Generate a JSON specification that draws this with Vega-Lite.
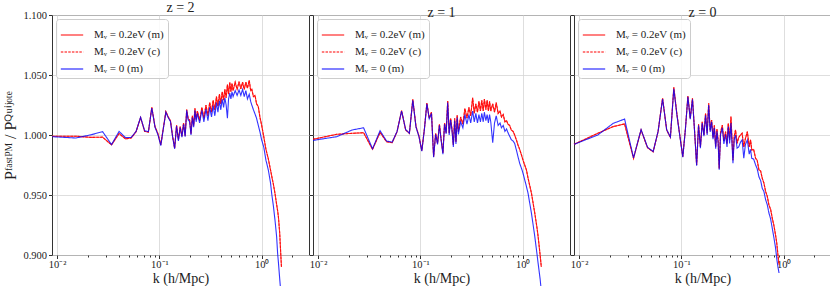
{
  "$schema": "https://vega.github.io/schema/vega-lite/v6.json",
  "padding": {"left": 2, "top": 0, "right": 2, "bottom": 0},
  "spacing": 4,
  "bounds": "flush",
  "config": {
    "font": "Liberation Serif",
    "view": {"stroke": "#333333", "strokeWidth": 1},
    "axis": {"labelFont": "Liberation Serif", "titleFont": "Liberation Serif", "labelFontSize": 10.5, "titleFontSize": 14, "titleFontWeight": "normal", "labelColor": "#222222", "titleColor": "#222222", "tickColor": "#333333", "domain": false, "gridColor": "#d6d6d6", "gridWidth": 0.8},
    "title": {"font": "Liberation Serif", "fontSize": 14, "fontWeight": "normal", "color": "#222222", "offset": -5, "anchor": "middle"},
    "legend": {"orient": "top-left", "offset": 4, "padding": 4, "fillColor": "rgba(255,255,255,0.85)", "strokeColor": "#cccccc", "cornerRadius": 3, "labelFont": "Liberation Serif", "labelFontSize": 11, "labelColor": "#222222", "symbolType": "stroke", "symbolStrokeWidth": 1.5, "symbolSize": 500, "rowPadding": 0, "labelOffset": 10},
    "line": {"strokeWidth": 1.1, "opacity": 0.8, "clip": true}
  },
  "resolve": {"scale": {"color": "independent", "strokeDash": "independent"}, "legend": {"color": "independent", "strokeDash": "independent"}},
  "datasets": {
    "d": [
      {"z":2,"k":0.0089,"rm":0.9990,"rc":0.9990,"bm":0.9986},
      {"z":2,"k":0.0152,"rm":0.9990,"rc":0.9990,"bm":0.9975},
      {"z":2,"k":0.0215,"rm":0.9980,"rc":0.9980,"bm":1.0002},
      {"z":2,"k":0.0278,"rm":0.9982,"rc":0.9982,"bm":1.0028},
      {"z":2,"k":0.0340,"rm":0.9918,"rc":0.9918,"bm":0.9920},
      {"z":2,"k":0.0403,"rm":1.0012,"rc":1.0012,"bm":1.0030},
      {"z":2,"k":0.0466,"rm":0.9968,"rc":0.9968,"bm":0.9978},
      {"z":2,"k":0.0529,"rm":0.9975,"rc":0.9975,"bm":0.9980},
      {"z":2,"k":0.0591,"rm":1.0028,"rc":1.0028,"bm":1.0030},
      {"z":2,"k":0.0654,"rm":1.0145,"rc":1.0145,"bm":1.0148},
      {"z":2,"k":0.0717,"rm":1.0030,"rc":1.0030,"bm":1.0035},
      {"z":2,"k":0.0780,"rm":1.0025,"rc":1.0025,"bm":1.0028},
      {"z":2,"k":0.0842,"rm":1.0230,"rc":1.0230,"bm":1.0225},
      {"z":2,"k":0.0905,"rm":1.0070,"rc":1.0070,"bm":1.0065},
      {"z":2,"k":0.0968,"rm":1.0010,"rc":1.0010,"bm":1.0000},
      {"z":2,"k":0.1031,"rm":0.9918,"rc":0.9918,"bm":0.9912},
      {"z":2,"k":0.1093,"rm":1.0060,"rc":1.0060,"bm":1.0055},
      {"z":2,"k":0.1156,"rm":1.0195,"rc":1.0195,"bm":1.0190},
      {"z":2,"k":0.1219,"rm":1.0150,"rc":1.0150,"bm":1.0145},
      {"z":2,"k":0.1282,"rm":1.0118,"rc":1.0118,"bm":1.0112},
      {"z":2,"k":0.1345,"rm":0.9990,"rc":0.9990,"bm":0.9985},
      {"z":2,"k":0.1408,"rm":0.9890,"rc":0.9890,"bm":0.9885},
      {"z":2,"k":0.1470,"rm":1.0080,"rc":1.0080,"bm":1.0075},
      {"z":2,"k":0.1533,"rm":0.9960,"rc":0.9960,"bm":0.9950},
      {"z":2,"k":0.1596,"rm":1.0070,"rc":1.0070,"bm":1.0062},
      {"z":2,"k":0.1659,"rm":0.9990,"rc":0.9990,"bm":0.9982},
      {"z":2,"k":0.1721,"rm":1.0100,"rc":1.0100,"bm":1.0090},
      {"z":2,"k":0.1784,"rm":0.9995,"rc":0.9995,"bm":0.9985},
      {"z":2,"k":0.1847,"rm":1.0212,"rc":1.0212,"bm":1.0205},
      {"z":2,"k":0.1910,"rm":1.0135,"rc":1.0135,"bm":1.0125},
      {"z":2,"k":0.1973,"rm":1.0125,"rc":1.0125,"bm":1.0112},
      {"z":2,"k":0.2035,"rm":1.0010,"rc":1.0010,"bm":1.0000},
      {"z":2,"k":0.2098,"rm":1.0160,"rc":1.0160,"bm":1.0145},
      {"z":2,"k":0.2161,"rm":1.0080,"rc":1.0080,"bm":1.0065},
      {"z":2,"k":0.2224,"rm":1.0222,"rc":1.0222,"bm":1.0205},
      {"z":2,"k":0.2286,"rm":1.0130,"rc":1.0130,"bm":1.0110},
      {"z":2,"k":0.235,"rm":1.0200,"rc":1.0200,"bm":1.0180},
      {"z":2,"k":0.247,"rm":1.0120,"rc":1.0120,"bm":1.0100},
      {"z":2,"k":0.260,"rm":1.0230,"rc":1.0230,"bm":1.0205},
      {"z":2,"k":0.272,"rm":1.0140,"rc":1.0140,"bm":1.0110},
      {"z":2,"k":0.285,"rm":1.0250,"rc":1.0250,"bm":1.0215},
      {"z":2,"k":0.298,"rm":1.0160,"rc":1.0160,"bm":1.0120},
      {"z":2,"k":0.310,"rm":1.0270,"rc":1.0270,"bm":1.0230},
      {"z":2,"k":0.323,"rm":1.0190,"rc":1.0190,"bm":1.0150},
      {"z":2,"k":0.335,"rm":1.0290,"rc":1.0290,"bm":1.0245},
      {"z":2,"k":0.348,"rm":1.0210,"rc":1.0210,"bm":1.0160},
      {"z":2,"k":0.361,"rm":1.0320,"rc":1.0320,"bm":1.0270},
      {"z":2,"k":0.373,"rm":1.0240,"rc":1.0240,"bm":1.0190},
      {"z":2,"k":0.386,"rm":1.0340,"rc":1.0340,"bm":1.0285},
      {"z":2,"k":0.398,"rm":1.0260,"rc":1.0260,"bm":1.0210},
      {"z":2,"k":0.411,"rm":1.0360,"rc":1.0360,"bm":1.0300},
      {"z":2,"k":0.424,"rm":1.0290,"rc":1.0290,"bm":1.0230},
      {"z":2,"k":0.436,"rm":1.0380,"rc":1.0380,"bm":1.0310},
      {"z":2,"k":0.449,"rm":1.0310,"rc":1.0310,"bm":1.0250},
      {"z":2,"k":0.462,"rm":1.0420,"rc":1.0420,"bm":1.0140},
      {"z":2,"k":0.474,"rm":1.0340,"rc":1.0340,"bm":1.0300},
      {"z":2,"k":0.487,"rm":1.0440,"rc":1.0440,"bm":1.0350},
      {"z":2,"k":0.500,"rm":1.0360,"rc":1.0360,"bm":1.0300},
      {"z":2,"k":0.512,"rm":1.0430,"rc":1.0430,"bm":1.0360},
      {"z":2,"k":0.525,"rm":1.0370,"rc":1.0370,"bm":1.0320},
      {"z":2,"k":0.550,"rm":1.0440,"rc":1.0440,"bm":1.0370},
      {"z":2,"k":0.575,"rm":1.0380,"rc":1.0380,"bm":1.0330},
      {"z":2,"k":0.600,"rm":1.0445,"rc":1.0445,"bm":1.0375},
      {"z":2,"k":0.625,"rm":1.0385,"rc":1.0385,"bm":1.0330},
      {"z":2,"k":0.650,"rm":1.0440,"rc":1.0440,"bm":1.0380},
      {"z":2,"k":0.675,"rm":1.0380,"rc":1.0380,"bm":1.0320},
      {"z":2,"k":0.700,"rm":1.0440,"rc":1.0440,"bm":1.0370},
      {"z":2,"k":0.725,"rm":1.0390,"rc":1.0390,"bm":1.0300},
      {"z":2,"k":0.755,"rm":1.0455,"rc":1.0455,"bm":1.0340},
      {"z":2,"k":0.780,"rm":1.0370,"rc":1.0370,"bm":1.0280},
      {"z":2,"k":0.800,"rm":1.0380,"rc":1.0380,"bm":1.0250},
      {"z":2,"k":0.830,"rm":1.0320,"rc":1.0320,"bm":1.0210},
      {"z":2,"k":0.860,"rm":1.0330,"rc":1.0330,"bm":1.0175},
      {"z":2,"k":0.890,"rm":1.0260,"rc":1.0260,"bm":1.0140},
      {"z":2,"k":0.926,"rm":1.0236,"rc":1.0236,"bm":1.0080},
      {"z":2,"k":0.960,"rm":1.0150,"rc":1.0150,"bm":1.0028},
      {"z":2,"k":0.998,"rm":1.0083,"rc":1.0083,"bm":0.9960},
      {"z":2,"k":1.047,"rm":0.9986,"rc":0.9986,"bm":0.9900},
      {"z":2,"k":1.100,"rm":0.9880,"rc":0.9880,"bm":0.9790},
      {"z":2,"k":1.161,"rm":0.9800,"rc":0.9800,"bm":0.9708},
      {"z":2,"k":1.220,"rm":0.9708,"rc":0.9708,"bm":0.9600},
      {"z":2,"k":1.251,"rm":0.9660,"rc":0.9660,"bm":0.9514},
      {"z":2,"k":1.300,"rm":0.9590,"rc":0.9590,"bm":0.9410},
      {"z":2,"k":1.348,"rm":0.9514,"rc":0.9514,"bm":0.9292},
      {"z":2,"k":1.400,"rm":0.9420,"rc":0.9420,"bm":0.9150},
      {"z":2,"k":1.430,"rm":0.9370,"rc":0.9370,"bm":0.9017},
      {"z":2,"k":1.456,"rm":0.9320,"rc":0.9320,"bm":0.8940},
      {"z":2,"k":1.500,"rm":0.9180,"rc":0.9180,"bm":0.8800},
      {"z":2,"k":1.534,"rm":0.9014,"rc":0.9014,"bm":0.8700},
      {"z":2,"k":1.560,"rm":0.8900,"rc":0.8900,"bm":0.8600},

      {"z":1,"k":0.0089,"rm":0.9964,"rc":0.9964,"bm":0.9955},
      {"z":1,"k":0.0152,"rm":1.0006,"rc":1.0006,"bm":0.9986},
      {"z":1,"k":0.0215,"rm":1.0014,"rc":1.0014,"bm":1.0042},
      {"z":1,"k":0.0278,"rm":1.0019,"rc":1.0019,"bm":1.0060},
      {"z":1,"k":0.0340,"rm":0.9881,"rc":0.9881,"bm":0.9885},
      {"z":1,"k":0.0403,"rm":1.0022,"rc":1.0022,"bm":1.0036},
      {"z":1,"k":0.0466,"rm":0.9944,"rc":0.9944,"bm":0.9950},
      {"z":1,"k":0.0529,"rm":0.9936,"rc":0.9936,"bm":0.9940},
      {"z":1,"k":0.0591,"rm":1.0028,"rc":1.0028,"bm":1.0030},
      {"z":1,"k":0.0654,"rm":1.0203,"rc":1.0203,"bm":1.0200},
      {"z":1,"k":0.0717,"rm":1.0042,"rc":1.0042,"bm":1.0045},
      {"z":1,"k":0.0780,"rm":1.0014,"rc":1.0014,"bm":1.0015},
      {"z":1,"k":0.0842,"rm":1.0297,"rc":1.0297,"bm":1.0290},
      {"z":1,"k":0.0905,"rm":1.0070,"rc":1.0070,"bm":1.0065},
      {"z":1,"k":0.0968,"rm":0.9990,"rc":0.9990,"bm":0.9985},
      {"z":1,"k":0.1031,"rm":0.9869,"rc":0.9869,"bm":0.9865},
      {"z":1,"k":0.1093,"rm":1.0050,"rc":1.0050,"bm":1.0045},
      {"z":1,"k":0.1156,"rm":1.0267,"rc":1.0267,"bm":1.0260},
      {"z":1,"k":0.1219,"rm":1.0139,"rc":1.0139,"bm":1.0135},
      {"z":1,"k":0.1282,"rm":1.0190,"rc":1.0190,"bm":1.0180},
      {"z":1,"k":0.1345,"rm":0.9820,"rc":0.9820,"bm":0.9815},
      {"z":1,"k":0.1408,"rm":1.0014,"rc":1.0014,"bm":1.0005},
      {"z":1,"k":0.1470,"rm":0.9930,"rc":0.9930,"bm":0.9922},
      {"z":1,"k":0.1533,"rm":1.0090,"rc":1.0090,"bm":1.0080},
      {"z":1,"k":0.1596,"rm":0.9960,"rc":0.9960,"bm":0.9950},
      {"z":1,"k":0.1659,"rm":0.9850,"rc":0.9850,"bm":0.9840},
      {"z":1,"k":0.1721,"rm":1.0100,"rc":1.0100,"bm":1.0090},
      {"z":1,"k":0.1784,"rm":1.0020,"rc":1.0020,"bm":1.0010},
      {"z":1,"k":0.1847,"rm":1.0283,"rc":1.0283,"bm":1.0270},
      {"z":1,"k":0.1910,"rm":1.0014,"rc":1.0014,"bm":1.0000},
      {"z":1,"k":0.1973,"rm":1.0139,"rc":1.0139,"bm":1.0125},
      {"z":1,"k":0.2035,"rm":1.0050,"rc":1.0050,"bm":1.0035},
      {"z":1,"k":0.2098,"rm":0.9917,"rc":0.9917,"bm":0.9900},
      {"z":1,"k":0.2161,"rm":1.0139,"rc":1.0139,"bm":1.0120},
      {"z":1,"k":0.2224,"rm":0.9944,"rc":0.9944,"bm":0.9925},
      {"z":1,"k":0.2286,"rm":1.0167,"rc":1.0167,"bm":1.0145},
      {"z":1,"k":0.235,"rm":1.0028,"rc":1.0028,"bm":1.0005},
      {"z":1,"k":0.247,"rm":1.0150,"rc":1.0150,"bm":1.0110},
      {"z":1,"k":0.260,"rm":1.0090,"rc":1.0090,"bm":1.0060},
      {"z":1,"k":0.272,"rm":1.0220,"rc":1.0220,"bm":1.0170},
      {"z":1,"k":0.285,"rm":1.0140,"rc":1.0140,"bm":1.0090},
      {"z":1,"k":0.298,"rm":1.0230,"rc":1.0230,"bm":1.0170},
      {"z":1,"k":0.310,"rm":1.0160,"rc":1.0160,"bm":1.0100},
      {"z":1,"k":0.324,"rm":1.0310,"rc":1.0310,"bm":1.0200},
      {"z":1,"k":0.336,"rm":1.0180,"rc":1.0180,"bm":1.0110},
      {"z":1,"k":0.348,"rm":1.0260,"rc":1.0260,"bm":1.0180},
      {"z":1,"k":0.361,"rm":1.0190,"rc":1.0190,"bm":1.0100},
      {"z":1,"k":0.373,"rm":1.0280,"rc":1.0280,"bm":1.0170},
      {"z":1,"k":0.386,"rm":1.0200,"rc":1.0200,"bm":1.0110},
      {"z":1,"k":0.398,"rm":1.0290,"rc":1.0290,"bm":1.0180},
      {"z":1,"k":0.411,"rm":1.0200,"rc":1.0200,"bm":1.0110},
      {"z":1,"k":0.422,"rm":1.0300,"rc":1.0300,"bm":1.0190},
      {"z":1,"k":0.436,"rm":1.0210,"rc":1.0210,"bm":1.0120},
      {"z":1,"k":0.449,"rm":1.0290,"rc":1.0290,"bm":1.0170},
      {"z":1,"k":0.462,"rm":1.0200,"rc":1.0200,"bm":1.0100},
      {"z":1,"k":0.474,"rm":1.0280,"rc":1.0280,"bm":1.0170},
      {"z":1,"k":0.487,"rm":1.0200,"rc":1.0200,"bm":1.0110},
      {"z":1,"k":0.509,"rm":1.0260,"rc":1.0260,"bm":0.9936},
      {"z":1,"k":0.530,"rm":1.0190,"rc":1.0190,"bm":1.0100},
      {"z":1,"k":0.551,"rm":1.0270,"rc":1.0270,"bm":1.0160},
      {"z":1,"k":0.575,"rm":1.0180,"rc":1.0180,"bm":1.0080},
      {"z":1,"k":0.600,"rm":1.0200,"rc":1.0200,"bm":1.0100},
      {"z":1,"k":0.620,"rm":1.0150,"rc":1.0150,"bm":1.0060},
      {"z":1,"k":0.645,"rm":1.0170,"rc":1.0170,"bm":1.0080},
      {"z":1,"k":0.670,"rm":1.0110,"rc":1.0110,"bm":1.0030},
      {"z":1,"k":0.695,"rm":1.0120,"rc":1.0120,"bm":1.0050},
      {"z":1,"k":0.717,"rm":1.0090,"rc":1.0090,"bm":1.0020},
      {"z":1,"k":0.745,"rm":1.0080,"rc":1.0080,"bm":0.9990},
      {"z":1,"k":0.775,"rm":1.0040,"rc":1.0040,"bm":0.9960},
      {"z":1,"k":0.805,"rm":1.0030,"rc":1.0030,"bm":0.9950},
      {"z":1,"k":0.834,"rm":1.0000,"rc":1.0000,"bm":0.9930},
      {"z":1,"k":0.867,"rm":0.9960,"rc":0.9960,"bm":0.9875},
      {"z":1,"k":0.899,"rm":0.9917,"rc":0.9917,"bm":0.9820},
      {"z":1,"k":0.934,"rm":0.9880,"rc":0.9880,"bm":0.9764},
      {"z":1,"k":0.984,"rm":0.9820,"rc":0.9820,"bm":0.9710},
      {"z":1,"k":1.007,"rm":0.9790,"rc":0.9790,"bm":0.9681},
      {"z":1,"k":1.088,"rm":0.9708,"rc":0.9708,"bm":0.9570},
      {"z":1,"k":1.128,"rm":0.9640,"rc":0.9640,"bm":0.9514},
      {"z":1,"k":1.218,"rm":0.9514,"rc":0.9514,"bm":0.9347},
      {"z":1,"k":1.313,"rm":0.9347,"rc":0.9347,"bm":0.9153},
      {"z":1,"k":1.383,"rm":0.9220,"rc":0.9220,"bm":0.9000},
      {"z":1,"k":1.415,"rm":0.9153,"rc":0.9153,"bm":0.8930},
      {"z":1,"k":1.480,"rm":0.9000,"rc":0.9000,"bm":0.8800},
      {"z":1,"k":1.520,"rm":0.8900,"rc":0.8900,"bm":0.8700},

      {"z":0,"k":0.0089,"rm":0.9922,"rc":0.9922,"bm":0.9922},
      {"z":0,"k":0.0152,"rm":1.0014,"rc":1.0014,"bm":1.0000},
      {"z":0,"k":0.0215,"rm":1.0070,"rc":1.0070,"bm":1.0097},
      {"z":0,"k":0.0278,"rm":1.0092,"rc":1.0092,"bm":1.0133},
      {"z":0,"k":0.0340,"rm":0.9806,"rc":0.9806,"bm":0.9810},
      {"z":0,"k":0.0403,"rm":1.0042,"rc":1.0042,"bm":1.0045},
      {"z":0,"k":0.0466,"rm":0.9894,"rc":0.9894,"bm":0.9898},
      {"z":0,"k":0.0529,"rm":0.9860,"rc":0.9860,"bm":0.9862},
      {"z":0,"k":0.0591,"rm":1.0028,"rc":1.0028,"bm":1.0030},
      {"z":0,"k":0.0654,"rm":1.0306,"rc":1.0306,"bm":1.0300},
      {"z":0,"k":0.0717,"rm":1.0042,"rc":1.0042,"bm":1.0045},
      {"z":0,"k":0.0780,"rm":0.9980,"rc":0.9980,"bm":0.9982},
      {"z":0,"k":0.0842,"rm":1.0397,"rc":1.0397,"bm":1.0385},
      {"z":0,"k":0.0905,"rm":1.0167,"rc":1.0167,"bm":1.0160},
      {"z":0,"k":0.0968,"rm":0.9986,"rc":0.9986,"bm":0.9980},
      {"z":0,"k":0.1031,"rm":0.9820,"rc":0.9820,"bm":0.9815},
      {"z":0,"k":0.1093,"rm":1.0050,"rc":1.0050,"bm":1.0045},
      {"z":0,"k":0.1156,"rm":1.0325,"rc":1.0325,"bm":1.0318},
      {"z":0,"k":0.1219,"rm":1.0139,"rc":1.0139,"bm":1.0132},
      {"z":0,"k":0.1282,"rm":1.0306,"rc":1.0306,"bm":1.0298},
      {"z":0,"k":0.1345,"rm":1.0030,"rc":1.0030,"bm":1.0025},
      {"z":0,"k":0.1408,"rm":0.9750,"rc":0.9750,"bm":0.9745},
      {"z":0,"k":0.1470,"rm":1.0090,"rc":1.0090,"bm":1.0080},
      {"z":0,"k":0.1533,"rm":0.9900,"rc":0.9900,"bm":0.9890},
      {"z":0,"k":0.1596,"rm":1.0110,"rc":1.0110,"bm":1.0100},
      {"z":0,"k":0.1659,"rm":1.0000,"rc":1.0000,"bm":0.9990},
      {"z":0,"k":0.1721,"rm":1.0180,"rc":1.0180,"bm":1.0165},
      {"z":0,"k":0.1784,"rm":1.0014,"rc":1.0014,"bm":1.0000},
      {"z":0,"k":0.1847,"rm":1.0264,"rc":1.0264,"bm":1.0250},
      {"z":0,"k":0.1910,"rm":1.0040,"rc":1.0040,"bm":1.0025},
      {"z":0,"k":0.1973,"rm":1.0125,"rc":1.0125,"bm":1.0110},
      {"z":0,"k":0.2035,"rm":0.9980,"rc":0.9980,"bm":0.9965},
      {"z":0,"k":0.2098,"rm":1.0080,"rc":1.0080,"bm":1.0060},
      {"z":0,"k":0.2161,"rm":0.9903,"rc":0.9903,"bm":0.9885},
      {"z":0,"k":0.2224,"rm":1.0050,"rc":1.0050,"bm":1.0030},
      {"z":0,"k":0.2286,"rm":0.9950,"rc":0.9950,"bm":0.9930},
      {"z":0,"k":0.234,"rm":0.9722,"rc":0.9722,"bm":0.9710},
      {"z":0,"k":0.241,"rm":1.0020,"rc":1.0020,"bm":1.0000},
      {"z":0,"k":0.251,"rm":1.0083,"rc":1.0083,"bm":1.0060},
      {"z":0,"k":0.260,"rm":0.9950,"rc":0.9950,"bm":0.9925},
      {"z":0,"k":0.270,"rm":1.0028,"rc":1.0028,"bm":1.0005},
      {"z":0,"k":0.279,"rm":0.9930,"rc":0.9930,"bm":0.9900},
      {"z":0,"k":0.287,"rm":1.0097,"rc":1.0097,"bm":1.0070},
      {"z":0,"k":0.296,"rm":0.9960,"rc":0.9960,"bm":0.9930},
      {"z":0,"k":0.305,"rm":1.0153,"rc":1.0153,"bm":1.0100},
      {"z":0,"k":0.319,"rm":0.9790,"rc":0.9790,"bm":0.9764},
      {"z":0,"k":0.328,"rm":0.9990,"rc":0.9990,"bm":0.9960},
      {"z":0,"k":0.338,"rm":1.0042,"rc":1.0042,"bm":1.0000},
      {"z":0,"k":0.350,"rm":0.9930,"rc":0.9930,"bm":0.9890},
      {"z":0,"k":0.363,"rm":0.9980,"rc":0.9980,"bm":0.9900},
      {"z":0,"k":0.378,"rm":1.0000,"rc":1.0000,"bm":0.9940},
      {"z":0,"k":0.392,"rm":1.0014,"rc":1.0014,"bm":0.9960},
      {"z":0,"k":0.407,"rm":0.9900,"rc":0.9900,"bm":0.9806},
      {"z":0,"k":0.422,"rm":0.9970,"rc":0.9970,"bm":0.9920},
      {"z":0,"k":0.441,"rm":1.0028,"rc":1.0028,"bm":0.9958},
      {"z":0,"k":0.460,"rm":0.9900,"rc":0.9900,"bm":0.9840},
      {"z":0,"k":0.474,"rm":0.9960,"rc":0.9960,"bm":0.9880},
      {"z":0,"k":0.487,"rm":0.9875,"rc":0.9875,"bm":0.9806},
      {"z":0,"k":0.508,"rm":0.9880,"rc":0.9880,"bm":0.9800},
      {"z":0,"k":0.531,"rm":0.9806,"rc":0.9806,"bm":0.9750},
      {"z":0,"k":0.550,"rm":0.9790,"rc":0.9790,"bm":0.9720},
      {"z":0,"k":0.573,"rm":0.9708,"rc":0.9708,"bm":0.9650},
      {"z":0,"k":0.595,"rm":0.9700,"rc":0.9700,"bm":0.9620},
      {"z":0,"k":0.617,"rm":0.9639,"rc":0.9639,"bm":0.9555},
      {"z":0,"k":0.640,"rm":0.9600,"rc":0.9600,"bm":0.9530},
      {"z":0,"k":0.666,"rm":0.9528,"rc":0.9528,"bm":0.9460},
      {"z":0,"k":0.690,"rm":0.9490,"rc":0.9490,"bm":0.9420},
      {"z":0,"k":0.717,"rm":0.9417,"rc":0.9417,"bm":0.9350},
      {"z":0,"k":0.745,"rm":0.9380,"rc":0.9380,"bm":0.9300},
      {"z":0,"k":0.773,"rm":0.9306,"rc":0.9306,"bm":0.9222},
      {"z":0,"k":0.800,"rm":0.9250,"rc":0.9250,"bm":0.9150},
      {"z":0,"k":0.832,"rm":0.9167,"rc":0.9167,"bm":0.9060},
      {"z":0,"k":0.855,"rm":0.9100,"rc":0.9100,"bm":0.8970},
      {"z":0,"k":0.878,"rm":0.9000,"rc":0.9000,"bm":0.8900},
      {"z":0,"k":0.900,"rm":0.8920,"rc":0.8920,"bm":0.8850}
    ]
  },
  "hconcat": [
    {
      "width": 257, "height": 240,
      "title": "z = 2",
      "data": {"name": "d"},
      "transform": [{"filter": "datum.z == 2"}],
      "encoding": {
        "x": {"field": "k", "type": "quantitative", "title": "k (h/Mpc)",
          "scale": {"type": "log", "domain": [0.0089, 2.9], "nice": false},
          "axis": {"values": [0.01,0.02,0.03,0.04,0.05,0.06,0.07,0.08,0.09,0.1,0.2,0.3,0.4,0.5,0.6,0.7,0.8,0.9,1,2], "labelExpr": "datum.value == 0.01 ? '10⁻²' : datum.value == 0.1 ? '10⁻¹' : datum.value == 1 ? '10⁰' : ''", "labelOverlap": false, "labelFlush": false, "grid": true, "gridOpacity": {"condition": {"test": "datum.value == 0.01 || datum.value == 0.1 || datum.value == 1", "value": 1}, "value": 0}, "tickSize": {"condition": {"test": "datum.value == 0.01 || datum.value == 0.1 || datum.value == 1", "value": 3.5}, "value": 2}, "labelPadding": 1, "titlePadding": 1}}
      },
      "layer": [
        {"mark": "line", "encoding": {
          "y": {"field": "rm", "type": "quantitative", "title": "Pᶠᵃˢᵗᴾᴹ / Pꟴᵘⁱʲᵒᵗᵉ", "scale": {"domain": [0.9, 1.1], "nice": false, "zero": false}, "axis": {"values": [0.9,0.925,0.95,0.975,1,1.025,1.05,1.075,1.1], "format": ".3f", "grid": true, "tickSize": 3.5, "labelPadding": 2, "titlePadding": 4, "titleFontSize": 16}},
          "color": {"datum": "Mᵥ = 0.2eV (m)", "scale": {"domain": ["Mᵥ = 0.2eV (m)", "Mᵥ = 0.2eV (c)", "Mᵥ = 0 (m)"], "range": ["#ff0000", "#ff0000", "#0000ff"]}, "legend": {"title": null}},
          "strokeDash": {"datum": "Mᵥ = 0.2eV (m)", "scale": {"domain": ["Mᵥ = 0.2eV (m)", "Mᵥ = 0.2eV (c)", "Mᵥ = 0 (m)"], "range": [[1,0],[2.5,1.2],[1,0]]}, "legend": {"title": null}}}},
        {"mark": "line", "encoding": {
          "y": {"field": "rc", "type": "quantitative", "title": "Pᶠᵃˢᵗᴾᴹ / Pꟴᵘⁱʲᵒᵗᵉ"},
          "color": {"datum": "Mᵥ = 0.2eV (c)"},
          "strokeDash": {"datum": "Mᵥ = 0.2eV (c)"}}},
        {"mark": "line", "encoding": {
          "y": {"field": "bm", "type": "quantitative", "title": "Pᶠᵃˢᵗᴾᴹ / Pꟴᵘⁱʲᵒᵗᵉ"},
          "color": {"datum": "Mᵥ = 0 (m)"},
          "strokeDash": {"datum": "Mᵥ = 0 (m)"}}}
      ]
    },
    {
      "width": 257, "height": 240,
      "title": "z = 1",
      "data": {"name": "d"},
      "transform": [{"filter": "datum.z == 1"}],
      "encoding": {
        "x": {"field": "k", "type": "quantitative", "title": "k (h/Mpc)",
          "scale": {"type": "log", "domain": [0.0089, 2.9], "nice": false},
          "axis": {"values": [0.01,0.02,0.03,0.04,0.05,0.06,0.07,0.08,0.09,0.1,0.2,0.3,0.4,0.5,0.6,0.7,0.8,0.9,1,2], "labelExpr": "datum.value == 0.01 ? '10⁻²' : datum.value == 0.1 ? '10⁻¹' : datum.value == 1 ? '10⁰' : ''", "labelOverlap": false, "labelFlush": false, "grid": true, "gridOpacity": {"condition": {"test": "datum.value == 0.01 || datum.value == 0.1 || datum.value == 1", "value": 1}, "value": 0}, "tickSize": {"condition": {"test": "datum.value == 0.01 || datum.value == 0.1 || datum.value == 1", "value": 3.5}, "value": 2}, "labelPadding": 1, "titlePadding": 1}}
      },
      "layer": [
        {"mark": "line", "encoding": {
          "y": {"field": "rm", "type": "quantitative", "title": null, "scale": {"domain": [0.9, 1.1], "nice": false, "zero": false}, "axis": {"values": [0.9,0.925,0.95,0.975,1,1.025,1.05,1.075,1.1], "labels": false, "grid": true, "tickSize": 3.5}},
          "color": {"datum": "Mᵥ = 0.2eV (m)", "scale": {"domain": ["Mᵥ = 0.2eV (m)", "Mᵥ = 0.2eV (c)", "Mᵥ = 0 (m)"], "range": ["#ff0000", "#ff0000", "#0000ff"]}, "legend": {"title": null}},
          "strokeDash": {"datum": "Mᵥ = 0.2eV (m)", "scale": {"domain": ["Mᵥ = 0.2eV (m)", "Mᵥ = 0.2eV (c)", "Mᵥ = 0 (m)"], "range": [[1,0],[2.5,1.2],[1,0]]}, "legend": {"title": null}}}},
        {"mark": "line", "encoding": {
          "y": {"field": "rc", "type": "quantitative", "title": null},
          "color": {"datum": "Mᵥ = 0.2eV (c)"},
          "strokeDash": {"datum": "Mᵥ = 0.2eV (c)"}}},
        {"mark": "line", "encoding": {
          "y": {"field": "bm", "type": "quantitative", "title": null},
          "color": {"datum": "Mᵥ = 0 (m)"},
          "strokeDash": {"datum": "Mᵥ = 0 (m)"}}}
      ]
    },
    {
      "width": 257, "height": 240,
      "title": "z = 0",
      "data": {"name": "d"},
      "transform": [{"filter": "datum.z == 0"}],
      "encoding": {
        "x": {"field": "k", "type": "quantitative", "title": "k (h/Mpc)",
          "scale": {"type": "log", "domain": [0.0089, 2.9], "nice": false},
          "axis": {"values": [0.01,0.02,0.03,0.04,0.05,0.06,0.07,0.08,0.09,0.1,0.2,0.3,0.4,0.5,0.6,0.7,0.8,0.9,1,2], "labelExpr": "datum.value == 0.01 ? '10⁻²' : datum.value == 0.1 ? '10⁻¹' : datum.value == 1 ? '10⁰' : ''", "labelOverlap": false, "labelFlush": false, "grid": true, "gridOpacity": {"condition": {"test": "datum.value == 0.01 || datum.value == 0.1 || datum.value == 1", "value": 1}, "value": 0}, "tickSize": {"condition": {"test": "datum.value == 0.01 || datum.value == 0.1 || datum.value == 1", "value": 3.5}, "value": 2}, "labelPadding": 1, "titlePadding": 1}}
      },
      "layer": [
        {"mark": "line", "encoding": {
          "y": {"field": "rm", "type": "quantitative", "title": null, "scale": {"domain": [0.9, 1.1], "nice": false, "zero": false}, "axis": {"values": [0.9,0.925,0.95,0.975,1,1.025,1.05,1.075,1.1], "labels": false, "grid": true, "tickSize": 3.5}},
          "color": {"datum": "Mᵥ = 0.2eV (m)", "scale": {"domain": ["Mᵥ = 0.2eV (m)", "Mᵥ = 0.2eV (c)", "Mᵥ = 0 (m)"], "range": ["#ff0000", "#ff0000", "#0000ff"]}, "legend": {"title": null}},
          "strokeDash": {"datum": "Mᵥ = 0.2eV (m)", "scale": {"domain": ["Mᵥ = 0.2eV (m)", "Mᵥ = 0.2eV (c)", "Mᵥ = 0 (m)"], "range": [[1,0],[2.5,1.2],[1,0]]}, "legend": {"title": null}}}},
        {"mark": "line", "encoding": {
          "y": {"field": "rc", "type": "quantitative", "title": null},
          "color": {"datum": "Mᵥ = 0.2eV (c)"},
          "strokeDash": {"datum": "Mᵥ = 0.2eV (c)"}}},
        {"mark": "line", "encoding": {
          "y": {"field": "bm", "type": "quantitative", "title": null},
          "color": {"datum": "Mᵥ = 0 (m)"},
          "strokeDash": {"datum": "Mᵥ = 0 (m)"}}}
      ]
    }
  ]
}
